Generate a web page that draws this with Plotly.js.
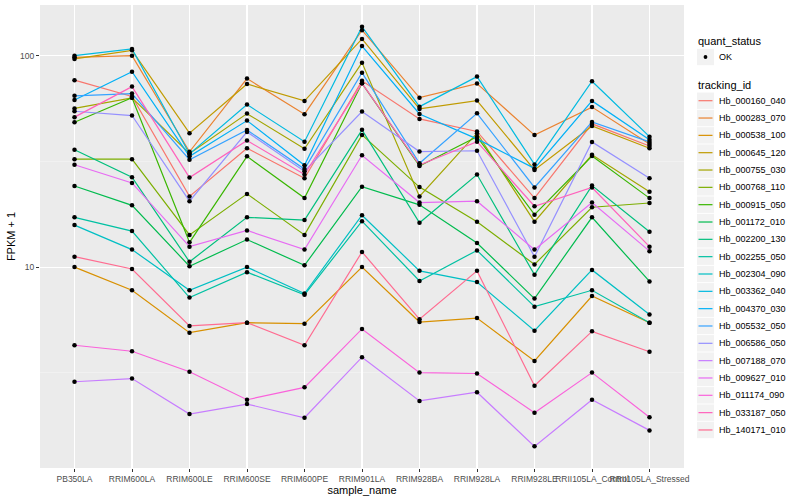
<!DOCTYPE html>
<html>
<head>
<meta charset="utf-8">
<script src="https://cdn.plot.ly/plotly-3.0.1.min.js"></script>
<style>html,body{margin:0;padding:0;background:#fff;}#chart{width:800px;height:500px;}</style>
</head>
<body>
<div id="chart"></div>
<script>
const samples = ['PB350LA','RRIM600LA','RRIM600LE','RRIM600SE','RRIM600PE','RRIM901LA','RRIM928BA','RRIM928LA','RRIM928LE','RRII105LA_Control','RRII105LA_Stressed'];

const trackingIds = ['Hb_000160_040','Hb_000283_070','Hb_000538_100','Hb_000645_120','Hb_000755_030','Hb_000768_110','Hb_000915_050','Hb_001172_010','Hb_002200_130','Hb_002255_050','Hb_002304_090','Hb_003362_040','Hb_004370_030','Hb_005532_050','Hb_006586_050','Hb_007188_070','Hb_009627_010','Hb_011174_090','Hb_033187_050','Hb_140171_010'];

const colors = ['#F8766D','#EA8331','#D89000','#C09B00','#A3A500','#7CAE00','#39B600','#00BB4E','#00BF7D','#00C1A3','#00BFC4','#00BAE0','#00B0F6','#35A2FF','#9590FF','#C77CFF','#E76BF3','#FA62DB','#FF62BC','#FF6C91'];

const quantStatus = ['OK'];

// FPKM + 1 per sample (same order as samples)
const Hb_000160_040 = [76.6, 64.1, 21.6, 36.5, 26.3, 76.0, 50.2, 43.8, 21.2, 47.6, 37.4];
const Hb_000283_070 = [98.2, 100, 35.1, 77.9, 52.9, 132, 63.3, 73.8, 42.1, 57.1, 38.2];
const Hb_000538_100 = [10.0, 7.77, 4.9, 5.46, 5.4, 10.0, 5.5, 5.74, 3.6, 7.3, 5.46];
const Hb_000645_120 = [96.5, 106, 43, 73.5, 61.1, 120, 56.0, 61.3, 28.8, 46.5, 36.5];
const Hb_000755_030 = [56.3, 63.2, 34.5, 53.2, 36.3, 92.7, 21.6, 43.0, 16.4, 34.0, 22.7];
const Hb_000768_110 = [32.4, 32.4, 14.2, 22.2, 14.2, 42.2, 23.9, 16.4, 10.3, 19.2, 20.1];
const Hb_000915_050 = [48.4, 63.2, 13.1, 33.4, 21.2, 74, 30.1, 41.4, 17.7, 33.5, 21.2];
const Hb_001172_010 = [24.2, 19.6, 10.1, 13.5, 10.2, 24.0, 19.7, 13.0, 7.1, 17.2, 8.56];
const Hb_002200_130 = [35.9, 26.6, 10.6, 17.2, 16.7, 44.6, 16.2, 27.4, 9.2, 24.3, 14.7];
const Hb_002255_050 = [17.2, 14.8, 7.18, 9.46, 7.4, 16.5, 8.6, 12.0, 6.5, 7.77, 5.46];
const Hb_002304_090 = [15.8, 12.1, 7.77, 10.0, 7.5, 17.6, 9.6, 8.5, 5.0, 9.7, 5.97];
const Hb_003362_040 = [100, 107.6, 34.3, 58.7, 39.2, 137, 57.4, 79.6, 30.6, 75.7, 41.4];
const Hb_004370_030 = [61.7, 84, 33.4, 49.3, 30.3, 111, 53.0, 40.4, 29.3, 61.1, 40.0];
const Hb_005532_050 = [64.6, 66.2, 32.2, 44.5, 29.1, 83.1, 31.0, 53.4, 23.8, 48.6, 39.1];
const Hb_006586_050 = [54.6, 52.1, 20.5, 43.6, 28.4, 54.4, 35.2, 35.5, 11.2, 39.1, 26.3];
const Hb_007188_070 = [2.87, 2.97, 2.02, 2.25, 1.94, 3.75, 2.33, 2.56, 1.42, 2.36, 1.69];
const Hb_009627_010 = [30.5, 25.0, 12.5, 14.9, 12.1, 33.8, 20.2, 20.5, 12.1, 20.2, 11.9];
const Hb_011174_090 = [4.27, 4.0, 3.2, 2.36, 2.7, 5.1, 3.17, 3.14, 2.05, 3.17, 1.95];
const Hb_033187_050 = [51.2, 71.4, 26.5, 39.7, 27.4, 74.0, 30.4, 39.2, 19.4, 23.8, 12.5];
const Hb_140171_010 = [11.2, 9.8, 5.27, 5.46, 4.27, 11.8, 5.67, 9.6, 2.75, 4.97, 3.98];

const seriesValues = [Hb_000160_040, Hb_000283_070, Hb_000538_100, Hb_000645_120, Hb_000755_030, Hb_000768_110, Hb_000915_050, Hb_001172_010, Hb_002200_130, Hb_002255_050, Hb_002304_090, Hb_003362_040, Hb_004370_030, Hb_005532_050, Hb_006586_050, Hb_007188_070, Hb_009627_010, Hb_011174_090, Hb_033187_050, Hb_140171_010];

const yTickVals = [10, 100];
const yTickText = ['10', '100'];
const yMinorVals = [Math.sqrt(10), Math.sqrt(1000)];

const FONT = 'Liberation Sans, Arial, sans-serif';
const W = 800, H = 500;
const M = {l: 40, r: 116, t: 5, b: 32};
const PW = W - M.l - M.r, PH = H - M.t - M.b;
const px = x => (x - M.l) / PW;           // page pixel -> paper x
const py = y => 1 - (y - M.t) / PH;       // page pixel -> paper y

const traces = [];
seriesValues.forEach((vals, i) => {
  traces.push({
    type: 'scatter', mode: 'lines', x: samples, y: vals,
    name: trackingIds[i], line: {color: colors[i], width: 1.2}, showlegend: false
  });
});
const allX = [], allY = [];
seriesValues.forEach(vals => { vals.forEach((v, j) => { allX.push(samples[j]); allY.push(v); }); });
traces.push({
  type: 'scatter', mode: 'markers', x: allX, y: allY, name: quantStatus[0],
  marker: {color: '#000', size: 4.5, symbol: 'circle'}, showlegend: false
});

// hand-built ggplot-style legend
const shapes = [], annotations = [];
const keyX0 = 697, keyX1 = 714, textX = 717;
function keyBox(cy) {
  shapes.push({type: 'rect', xref: 'paper', yref: 'paper', x0: px(keyX0), x1: px(keyX1), y0: py(cy - 8.2), y1: py(cy + 8.2), fillcolor: '#F2F2F2', line: {width: 0}, layer: 'above'});
}
annotations.push({xref: 'paper', yref: 'paper', x: px(696), y: py(41), xanchor: 'left', yanchor: 'middle', text: 'quant_status', showarrow: false, font: {size: 11, color: '#000', family: FONT}});
keyBox(57);
shapes.push({type: 'circle', xref: 'paper', yref: 'paper', x0: px(703.6), x1: px(707.4), y0: py(55.1), y1: py(58.9), fillcolor: '#000', line: {width: 0}, layer: 'above'});
annotations.push({xref: 'paper', yref: 'paper', x: px(textX), y: py(57), xanchor: 'left', yanchor: 'middle', text: quantStatus[0], showarrow: false, font: {size: 9, color: '#000', family: FONT}});
annotations.push({xref: 'paper', yref: 'paper', x: px(696), y: py(84.5), xanchor: 'left', yanchor: 'middle', text: 'tracking_id', showarrow: false, font: {size: 11, color: '#000', family: FONT}});
trackingIds.forEach((id, i) => {
  const cy = 100.7 + i * 17.33;
  keyBox(cy);
  shapes.push({type: 'line', xref: 'paper', yref: 'paper', x0: px(698.5), x1: px(712.5), y0: py(cy), y1: py(cy), line: {color: colors[i], width: 1.2}, layer: 'above'});
  annotations.push({xref: 'paper', yref: 'paper', x: px(textX), y: py(cy), xanchor: 'left', yanchor: 'middle', text: id, showarrow: false, font: {size: 9, color: '#000', family: FONT}});
});

const layout = {
  width: W, height: H, margin: M,
  paper_bgcolor: '#FFFFFF', plot_bgcolor: '#EBEBEB',
  font: {family: FONT, size: 9, color: '#4D4D4D'},
  showlegend: false,
  shapes: shapes, annotations: annotations,
  xaxis: {
    type: 'category', range: [-0.6, 10.6],
    showgrid: true, gridcolor: '#FFFFFF', gridwidth: 1.1,
    ticks: 'outside', ticklen: 3, tickcolor: '#333333', tickwidth: 1,
    tickangle: 0, tickfont: {size: 8.5, color: '#4D4D4D'},
    zeroline: false, showline: false,
    title: {text: 'sample_name', font: {size: 11, color: '#000'}, standoff: 3}
  },
  yaxis: {
    type: 'log', range: [0.05, 2.2396],
    tickmode: 'array', tickvals: yTickVals, ticktext: yTickText,
    showgrid: true, gridcolor: '#FFFFFF', gridwidth: 1.1,
    minor: {tickmode: 'array', tickvals: yMinorVals, showgrid: true, gridcolor: '#F5F5F5', gridwidth: 0.6, ticks: ''},
    ticks: 'outside', ticklen: 3, tickcolor: '#333333', tickwidth: 1,
    tickfont: {size: 8.5, color: '#4D4D4D'},
    zeroline: false, showline: false,
    title: {text: 'FPKM + 1', font: {size: 11, color: '#000'}, standoff: 2}
  }
};

Plotly.newPlot('chart', traces, layout, {staticPlot: true, displayModeBar: false});
</script>
</body>
</html>
